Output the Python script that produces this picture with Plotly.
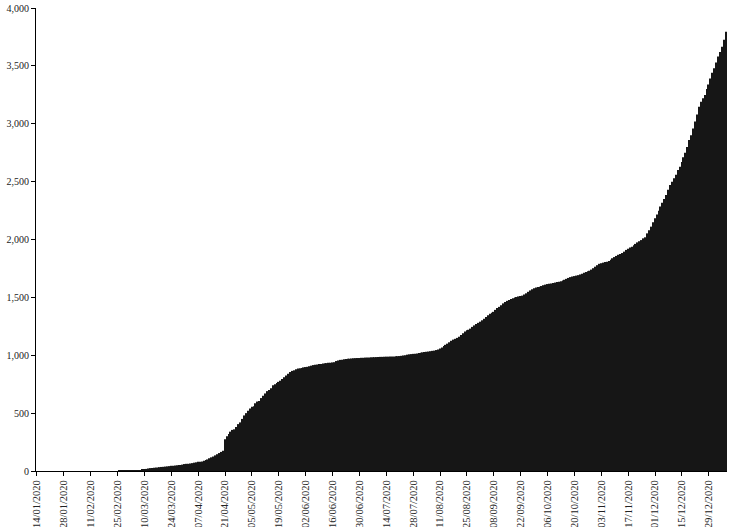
import pandas as pd
import plotly.graph_objs as go

# Daily cumulative totals, 14/01/2020 .. 07/01/2021, one row per week
start_date = "2020-01-14"
weekly_values = [
    [0, 0, 0, 0, 0, 0, 0],
    [0, 0, 0, 0, 0, 0, 0],
    [0, 0, 0, 0, 0, 0, 0],
    [0, 0, 0, 0, 0, 0, 0],
    [0, 0, 0, 0, 0, 0, 0],
    [0, 0, 0, 0, 0, 0, 0],
    [0, 2, 6, 8, 8, 8, 8],
    [8, 8, 8, 8, 8, 8, 10],
    [12, 18, 22, 25, 25, 28, 30],
    [30, 33, 35, 36, 38, 40, 42],
    [45, 45, 48, 50, 52, 52, 55],
    [60, 62, 62, 65, 68, 72, 75],
    [80, 80, 82, 88, 95, 100, 110],
    [118, 125, 135, 145, 155, 165, 175],
    [275, 300, 320, 340, 355, 360, 380],
    [405, 420, 450, 480, 500, 520, 540],
    [555, 560, 585, 600, 605, 630, 650],
    [670, 690, 700, 715, 740, 750, 760],
    [770, 780, 795, 810, 825, 840, 855],
    [865, 870, 880, 885, 888, 890, 895],
    [898, 900, 905, 910, 915, 918, 920],
    [925, 925, 928, 930, 932, 935, 935],
    [938, 940, 950, 955, 960, 962, 965],
    [968, 970, 970, 972, 974, 975, 976],
    [976, 978, 978, 980, 980, 981, 982],
    [982, 983, 984, 985, 986, 986, 987],
    [988, 988, 989, 990, 990, 991, 992],
    [993, 995, 998, 1000, 1005, 1008, 1010],
    [1012, 1014, 1016, 1020, 1022, 1025, 1028],
    [1030, 1032, 1035, 1038, 1040, 1045, 1050],
    [1058, 1068, 1080, 1090, 1100, 1112, 1125],
    [1135, 1142, 1150, 1160, 1175, 1190, 1205],
    [1215, 1220, 1230, 1245, 1258, 1270, 1280],
    [1290, 1302, 1315, 1330, 1345, 1358, 1368],
    [1375, 1392, 1408, 1418, 1432, 1448, 1460],
    [1470, 1477, 1485, 1492, 1498, 1503, 1508],
    [1512, 1515, 1525, 1535, 1548, 1560, 1570],
    [1578, 1585, 1590, 1592, 1598, 1605, 1610],
    [1615, 1618, 1620, 1624, 1628, 1632, 1635],
    [1640, 1645, 1652, 1660, 1668, 1675, 1680],
    [1684, 1688, 1692, 1698, 1705, 1712, 1720],
    [1725, 1730, 1740, 1752, 1765, 1778, 1790],
    [1795, 1800, 1805, 1808, 1815, 1825, 1838],
    [1848, 1858, 1868, 1875, 1883, 1895, 1910],
    [1920, 1930, 1938, 1950, 1962, 1975, 1985],
    [1995, 2010, 2019, 2053, 2080, 2111, 2150],
    [2183, 2215, 2249, 2285, 2318, 2350, 2384],
    [2430, 2470, 2500, 2530, 2560, 2600, 2629],
    [2670, 2710, 2750, 2800, 2860, 2900, 2960],
    [3020, 3080, 3147, 3190, 3220, 3248, 3300],
    [3340, 3390, 3440, 3479, 3530, 3580, 3620],
    [3665, 3725, 3795],
]
y_ticks = [0, 500, 1000, 1500, 2000, 2500, 3000, 3500, 4000]

values = [v for week in weekly_values for v in week]
dates = pd.date_range(start_date, periods=len(values), freq="D")
date_strs = [d.strftime("%Y-%m-%d") for d in dates]
tick_dates = pd.date_range(start_date, "2020-12-29", freq="14D")

fig = go.Figure()
fig.add_trace(go.Bar(x=date_strs, y=values, marker=dict(color="#161616", line=dict(width=0))))

font = dict(family="Liberation Serif", size=10, color="#222222")
fig.update_layout(
    width=731,
    height=527,
    margin=dict(l=36, r=4, t=8, b=56),
    paper_bgcolor="white",
    plot_bgcolor="white",
    bargap=0.12,
    showlegend=False,
    font=font,
)
fig.update_xaxes(
    type="date",
    range=["2020-01-13 12:00", "2021-01-07 12:00"],
    tickvals=[d.strftime("%Y-%m-%d") for d in tick_dates],
    ticktext=[d.strftime("%d/%m/%Y") for d in tick_dates],
    tickangle=-90,
    tickfont=dict(size=10.5),
    ticks="outside",
    ticklen=4,
    tickcolor="black",
    showline=True,
    linecolor="black",
    linewidth=1,
    showgrid=False,
    zeroline=False,
    automargin=False,
)
fig.update_yaxes(
    range=[0, 4000],
    tickvals=y_ticks,
    tickformat=",",
    ticks="outside",
    ticklen=4,
    tickcolor="black",
    showline=True,
    linecolor="black",
    linewidth=1,
    showgrid=False,
    zeroline=False,
    automargin=False,
)

# default page body has an 8px margin; drop it so the figure fills the window
fig.write_html(
    "out.html",
    config={"displayModeBar": False},
    post_script="document.body.style.margin='0';document.body.style.overflow='hidden';",
)
